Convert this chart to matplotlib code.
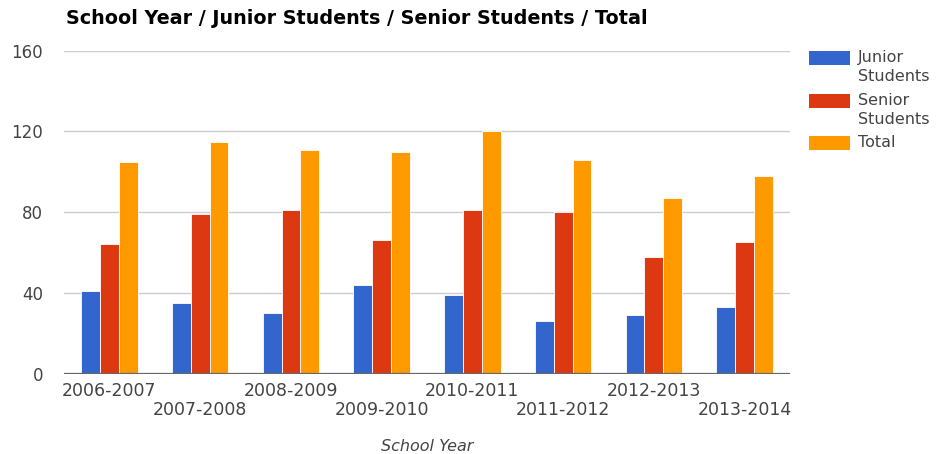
import numpy as np
import matplotlib.pyplot as plt
from matplotlib.patches import Rectangle

# Данные
years = ['2006-2007', '2007-2008', '2008-2009', '2009-2010',
         '2010-2011', '2011-2012', '2012-2013', '2013-2014']
junior = [41, 35, 30, 44, 39, 26, 29, 33]
senior = [64, 79, 81, 66, 81, 80, 58, 65]
total = [105, 115, 111, 110, 120, 106, 87, 98]
series_names = ['Junior\nStudents', 'Senior\nStudents', 'Total']
colors = ['#3366CC', '#DC3912', '#FF9900']
yticks = [0, 40, 80, 120, 160]

plt.rcParams['font.family'] = ['DejaVu Sans']

fig = plt.figure(figsize=(9.39, 4.54), dpi=100)
ax = fig.add_axes([0.0682, 0.1769, 0.8413 - 0.0682, 0.8883 - 0.1769])

x = np.arange(len(years))
w = 0.207
for i, vals in enumerate([junior, senior, total]):
    ax.bar(x + (i - 1) * w, vals, width=w, color=colors[i],
           edgecolor='white', linewidth=0.6, zorder=3)

# Оси
ax.set_xlim(-0.5, len(years) - 0.5)
ax.set_ylim(0, 160)
ax.set_yticks(yticks)
ax.set_yticklabels([str(t) for t in yticks])
ax.grid(axis='y', color='#cccccc', linewidth=1, zorder=0)
ax.axhline(0, color='#666666', linewidth=1.6, zorder=4)
for s in ax.spines.values():
    s.set_visible(False)
ax.tick_params(axis='y', length=0, pad=15, labelsize=12, labelcolor='#444444')
ax.tick_params(axis='x', length=0, labelbottom=False)

# Подписи по оси X в два ряда
for i, lab in enumerate(years):
    yoff = -0.053 if i % 2 == 0 else -0.113
    ax.text(i, yoff, lab, transform=ax.get_xaxis_transform(),
            ha='center', va='center', fontsize=12.5, color='#444444')

ax.text(0.5, -0.225, 'School Year', transform=ax.transAxes, ha='center',
        va='center', fontsize=11.5, style='italic', color='#444444')

fig.text(66 / 939, 1 - 18 / 454, 'School Year / Junior Students / Senior Students / Total',
         ha='left', va='center', fontsize=13.8, fontweight='bold', color='#000000')

# Легенда
leg_y = [58, 101, 143]
for name, c, yc in zip(series_names, colors, leg_y):
    fig.patches.append(Rectangle((809 / 939, 1 - (yc + 7) / 454), 41 / 939, 14 / 454,
                                 transform=fig.transFigure, facecolor=c, edgecolor='none'))
    fig.text(858 / 939, 1 - (yc - 8) / 454, name, ha='left', va='top',
             fontsize=11.5, color='#444444', linespacing=1.3)

fig.savefig('out.png', dpi=100)
